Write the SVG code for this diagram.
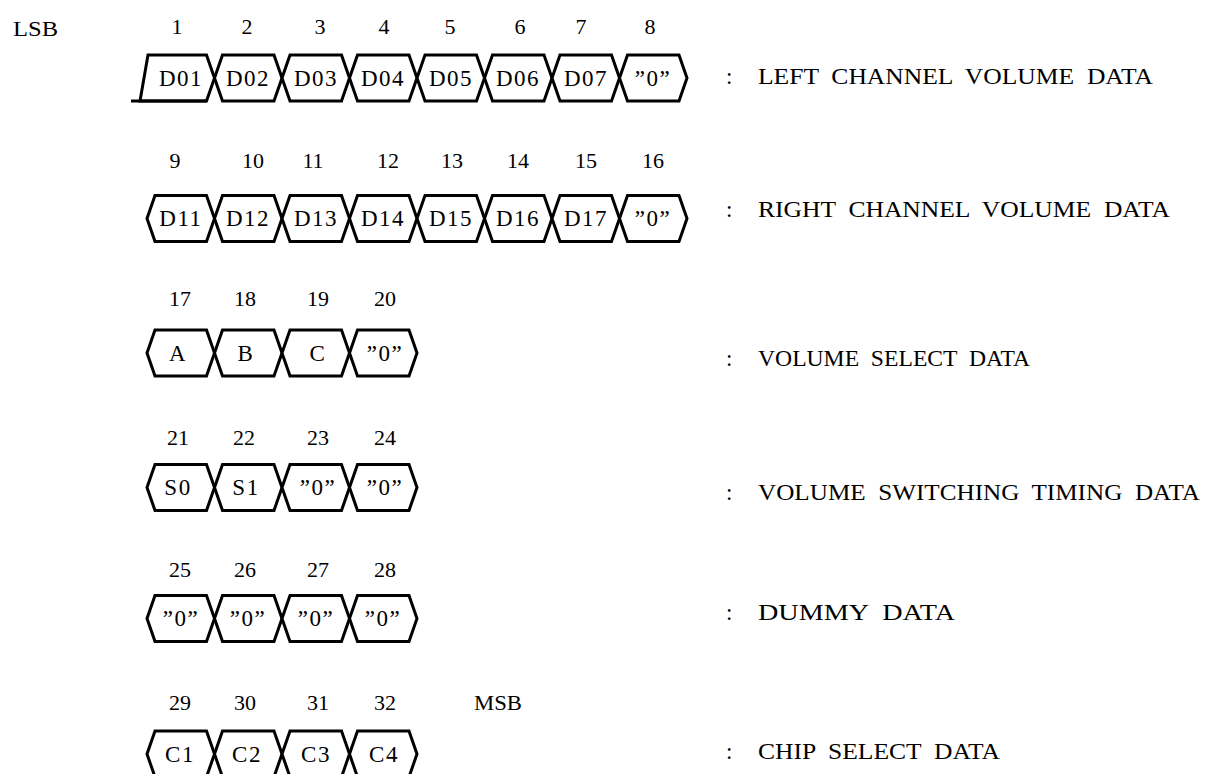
<svg xmlns="http://www.w3.org/2000/svg" width="1205" height="774" viewBox="0 0 1205 774">
<style>
.w{fill:#fff;stroke:#000;stroke-width:3;stroke-linejoin:miter}
.l{fill:none;stroke:#000;stroke-width:3}
text{font-family:"Liberation Serif","DejaVu Serif",serif;fill:#000}
.n{font-size:22px;text-anchor:middle}
.c{font-size:23px;text-anchor:middle;letter-spacing:1.5px}
.lab{font-size:23px;white-space:pre}
</style>
<rect width="1205" height="774" fill="#fff"/>
<g id="headers">
<text x="13" y="36" style="font-size:22px" textLength="45" lengthAdjust="spacingAndGlyphs">LSB</text>
<text x="474" y="710" style="font-size:22px" textLength="48" lengthAdjust="spacingAndGlyphs">MSB</text>
</g>
<g id="row1">
<text class="n" x="177" y="34">1</text><text class="n" x="247" y="34">2</text><text class="n" x="320" y="34">3</text><text class="n" x="384" y="34">4</text><text class="n" x="450" y="34">5</text><text class="n" x="520" y="34">6</text><text class="n" x="581" y="34">7</text><text class="n" x="650" y="34">8</text>
<path class="w" d="M140,101 L148,55 L206.5,55 L214.5,78 L206.5,101 Z"/>
<path class="l" d="M131,101 L206.5,101"/>
<polygon class="w" points="214.5,78 222.5,55 274,55 282,78 274,101 222.5,101"/>
<polygon class="w" points="282,78 290,55 341.5,55 349.5,78 341.5,101 290,101"/>
<polygon class="w" points="349.5,78 357.5,55 409,55 417,78 409,101 357.5,101"/>
<polygon class="w" points="417,78 425,55 476.5,55 484.5,78 476.5,101 425,101"/>
<polygon class="w" points="484.5,78 492.5,55 544,55 552,78 544,101 492.5,101"/>
<polygon class="w" points="552,78 560,55 611.5,55 619.5,78 611.5,101 560,101"/>
<polygon class="w" points="619.5,78 627.5,55 679,55 687,78 679,101 627.5,101"/>
<text class="c" x="181" y="86">D01</text><text class="c" x="248" y="86">D02</text><text class="c" x="316" y="86">D03</text><text class="c" x="383" y="86">D04</text><text class="c" x="451" y="86">D05</text><text class="c" x="518" y="86">D06</text><text class="c" x="586" y="86">D07</text><text class="c" x="653" y="86">”0”</text>
<text class="lab" x="726" y="84">:</text>
<text class="lab" x="758" y="84" textLength="395" lengthAdjust="spacingAndGlyphs">LEFT  CHANNEL  VOLUME  DATA</text>
</g>
<g id="row2">
<text class="n" x="175" y="168">9</text><text class="n" x="253" y="168">10</text><text class="n" x="313" y="168">11</text><text class="n" x="388" y="168">12</text><text class="n" x="452" y="168">13</text><text class="n" x="518" y="168">14</text><text class="n" x="586" y="168">15</text><text class="n" x="653" y="168">16</text>
<polygon class="w" points="147,218.5 155,195.5 206.5,195.5 214.5,218.5 206.5,241.5 155,241.5"/>
<polygon class="w" points="214.5,218.5 222.5,195.5 274,195.5 282,218.5 274,241.5 222.5,241.5"/>
<polygon class="w" points="282,218.5 290,195.5 341.5,195.5 349.5,218.5 341.5,241.5 290,241.5"/>
<polygon class="w" points="349.5,218.5 357.5,195.5 409,195.5 417,218.5 409,241.5 357.5,241.5"/>
<polygon class="w" points="417,218.5 425,195.5 476.5,195.5 484.5,218.5 476.5,241.5 425,241.5"/>
<polygon class="w" points="484.5,218.5 492.5,195.5 544,195.5 552,218.5 544,241.5 492.5,241.5"/>
<polygon class="w" points="552,218.5 560,195.5 611.5,195.5 619.5,218.5 611.5,241.5 560,241.5"/>
<polygon class="w" points="619.5,218.5 627.5,195.5 679,195.5 687,218.5 679,241.5 627.5,241.5"/>
<text class="c" x="181" y="226">D11</text><text class="c" x="248" y="226">D12</text><text class="c" x="316" y="226">D13</text><text class="c" x="383" y="226">D14</text><text class="c" x="451" y="226">D15</text><text class="c" x="518" y="226">D16</text><text class="c" x="586" y="226">D17</text><text class="c" x="653" y="226">”0”</text>
<text class="lab" x="726" y="217">:</text>
<text class="lab" x="758" y="217" textLength="412" lengthAdjust="spacingAndGlyphs">RIGHT  CHANNEL  VOLUME  DATA</text>
</g>
<g id="row3">
<text class="n" x="180" y="306">17</text><text class="n" x="245" y="306">18</text><text class="n" x="318" y="306">19</text><text class="n" x="385" y="306">20</text>
<polygon class="w" points="147,353 155,330 206.5,330 214.5,353 206.5,376 155,376"/>
<polygon class="w" points="214.5,353 222.5,330 274,330 282,353 274,376 222.5,376"/>
<polygon class="w" points="282,353 290,330 341.5,330 349.5,353 341.5,376 290,376"/>
<polygon class="w" points="349.5,353 357.5,330 409,330 417,353 409,376 357.5,376"/>
<text class="c" x="178" y="361">A</text><text class="c" x="246" y="361">B</text><text class="c" x="318" y="361">C</text><text class="c" x="385" y="361">”0”</text>
<text class="lab" x="726" y="366">:</text>
<text class="lab" x="758" y="366" textLength="272" lengthAdjust="spacingAndGlyphs">VOLUME  SELECT  DATA</text>
</g>
<g id="row4">
<text class="n" x="178" y="445">21</text><text class="n" x="244" y="445">22</text><text class="n" x="318" y="445">23</text><text class="n" x="385" y="445">24</text>
<polygon class="w" points="147,487.5 155,464.5 206.5,464.5 214.5,487.5 206.5,510.5 155,510.5"/>
<polygon class="w" points="214.5,487.5 222.5,464.5 274,464.5 282,487.5 274,510.5 222.5,510.5"/>
<polygon class="w" points="282,487.5 290,464.5 341.5,464.5 349.5,487.5 341.5,510.5 290,510.5"/>
<polygon class="w" points="349.5,487.5 357.5,464.5 409,464.5 417,487.5 409,510.5 357.5,510.5"/>
<text class="c" x="178" y="495">S0</text><text class="c" x="246" y="495">S1</text><text class="c" x="318" y="495">”0”</text><text class="c" x="385" y="495">”0”</text>
<text class="lab" x="726" y="500">:</text>
<text class="lab" x="758" y="500" textLength="442" lengthAdjust="spacingAndGlyphs">VOLUME  SWITCHING  TIMING  DATA</text>
</g>
<g id="row5">
<text class="n" x="180" y="577">25</text><text class="n" x="245" y="577">26</text><text class="n" x="318" y="577">27</text><text class="n" x="385" y="577">28</text>
<polygon class="w" points="147,618.5 155,595.5 206.5,595.5 214.5,618.5 206.5,641.5 155,641.5"/>
<polygon class="w" points="214.5,618.5 222.5,595.5 274,595.5 282,618.5 274,641.5 222.5,641.5"/>
<polygon class="w" points="282,618.5 290,595.5 341.5,595.5 349.5,618.5 341.5,641.5 290,641.5"/>
<polygon class="w" points="349.5,618.5 357.5,595.5 409,595.5 417,618.5 409,641.5 357.5,641.5"/>
<text class="c" x="181" y="626">”0”</text><text class="c" x="248" y="626">”0”</text><text class="c" x="316" y="626">”0”</text><text class="c" x="383" y="626">”0”</text>
<text class="lab" x="726" y="620">:</text>
<text class="lab" x="758" y="620" textLength="197" lengthAdjust="spacingAndGlyphs">DUMMY  DATA</text>
</g>
<g id="row6">
<text class="n" x="180" y="710">29</text><text class="n" x="245" y="710">30</text><text class="n" x="318" y="710">31</text><text class="n" x="385" y="710">32</text>
<polygon class="w" points="147,754 155,731 206.5,731 214.5,754 206.5,777 155,777"/>
<polygon class="w" points="214.5,754 222.5,731 274,731 282,754 274,777 222.5,777"/>
<polygon class="w" points="282,754 290,731 341.5,731 349.5,754 341.5,777 290,777"/>
<polygon class="w" points="349.5,754 357.5,731 409,731 417,754 409,777 357.5,777"/>
<text class="c" x="180" y="762">C1</text><text class="c" x="247" y="762">C2</text><text class="c" x="316" y="762">C3</text><text class="c" x="384" y="762">C4</text>
<text class="lab" x="726" y="759">:</text>
<text class="lab" x="758" y="759" textLength="242" lengthAdjust="spacingAndGlyphs">CHIP  SELECT  DATA</text>
</g>
<g id="connectors"></g>
</svg>
